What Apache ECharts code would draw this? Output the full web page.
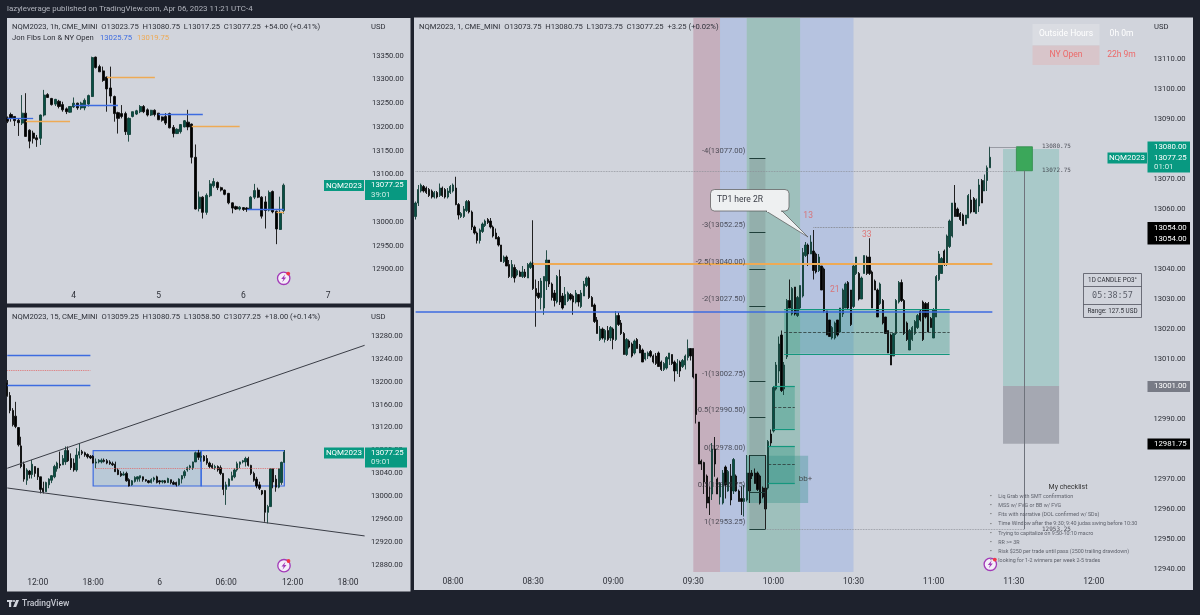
<!DOCTYPE html>
<html>

<head>
    <meta charset="utf-8">
    <title>NQM2023 multi timeframe</title>
    <script src="https://cdnjs.cloudflare.com/ajax/libs/echarts/6.0.0/echarts.min.js"></script>
    <style>
        html, body { margin: 0; padding: 0; background: #1e222d; }
    </style>
</head>

<body>
    <div id="main" style="width: 1200px;height:615px;"></div>
    <script type="text/javascript">
        // every bar is [open, close, low, high]
        var hourBars = [
            [13219,13212,13208,13222],[13226,13219,13211,13230],[13222,13213,13202,13222],[13214,13209,13181,13218],
            [13208,13229,13204,13267],[13229,13180,13179,13271],[13193,13170,13155,13195],[13187,13176,13165,13192],
            [13177,13173,13158,13183],[13176,13225,13162,13226],[13225,13267,13222,13278],[13268,13262,13261,13271],
            [13260,13247,13245,13261],[13248,13258,13244,13259],[13254,13243,13239,13257],[13247,13236,13232,13253],
            [13238,13232,13227,13241],[13231,13243,13230,13243],[13242,13250,13240,13262],[13250,13240,13236,13251],
            [13240,13250,13236,13253],[13240,13256,13235,13260],[13248,13266,13243,13268],[13264,13346,13263,13348],
            [13347,13325,13323,13348],[13327,13316,13316,13331],[13318,13298,13295,13327],[13305,13280,13232,13306],
            [13282,13265,13250,13327],[13264,13228,13211,13266],[13230,13218,13186,13232],[13228,13222,13218,13246],
            [13228,13190,13183,13232],[13184,13218,13169,13220],[13222,13232,13220,13232],[13227,13234,13225,13236],
            [13232,13243,13229,13246],[13243,13232,13229,13246],[13236,13225,13222,13239],[13225,13235,13223,13236],
            [13235,13226,13222,13237],[13229,13215,13214.5,13229],[13221,13214,13211,13222],[13222,13208,13204,13229],
            [13228,13198,13197,13230],[13199,13186,13178,13204],[13186,13195,13185,13197],[13190,13205,13186,13206],
            [13200,13213,13199,13214.5],[13210,13200,13193,13236],[13206,13136,13123,13207],[13136,13027,13026,13163],
            [13028,13052,13022,13064],[13052,13020,13007,13054],[13020,13056,13015,13060],[13055,13080,13052,13088],
            [13076,13085,13072,13092],[13083,13072,13067,13085],[13072,13067,13064,13074],[13067,13058,13056,13068],
            [13060,13040,13037,13061],[13040,13029,13018,13041],[13032,13027,13025,13034],[13027,13031,13024,13033],
            [13030,13026,13023,13031],[13029,13026,13021,13031],[13027,13052,13026,13054],[13052,13066,13048,13080],
            [13067,13052,13050,13072],[13052,13012,13007,13054],[13042,13024,12986,13054],[13025,13062,13022,13066],
            [13064,13021,13018,13066],[13022,12985,12953,13024],[12984,13020,12983,13053],[13023.75,13077.25,13017.25,13080.75]
        ];
        var quarterBars = [
            [13198,13176,13174,13203],[13176,13150,13145,13182],[13150,13125,13122,13154],[13140,13122,13119,13165],
            [13120,13090,13087,13121],[13088,13052,13049,13104],[13056,13030,13025.5,13060.5],[13028,13046,13020,13049],
            [13044,13038,13031,13046],[13038,13056,13031,13063.5],[13052,13040,13034,13052],[13049,13034,13028.5,13049],
            [13034,13012,13005,13034],[13014,13008,13005,13025.5],[13008,13024,13008,13025.5],[13020,13030,13014,13031.5],
            [13028,13036,13023,13037],[13034,13052,13031.5,13055],[13048,13058,13043,13060.5],[13056,13054,13049,13078],
            [13055,13066,13055,13072],[13060,13080,13055,13087],[13080,13062,13060,13087],[13066,13050,13046,13075],
            [13058,13046,13043,13066],[13046,13072,13043,13084],[13072,13078,13066,13092.5],[13078,13075,13072,13081],
            [13076,13072,13069,13078],[13073,13069,13066,13075],[13070,13067,13065,13072],[13070,13058,13057.5,13072],
            [13058,13060,13049,13066],[13060,13063,13057.5,13065],[13060,13063,13057.5,13066],[13063,13061,13059,13066],
            [13062,13058,13056,13065],[13060,13057,13055,13063],[13057,13055,13053,13060.5],[13056,13043,13043,13060.5],
            [13046,13038,13037,13049],[13040,13036,13034,13044],[13037,13039,13036,13043],[13040,13027,13025.5,13043],
            [13029,13018,13017,13031.5],[13020,13027,13018.5,13028.5],[13026,13033,13024,13035],[13030,13034,13025.5,13034.5],
            [13032,13036,13025.5,13036],[13034,13029,13025.5,13034.5],[13029,13027,13025.5,13030],[13027,13024,13022.5,13028.5],
            [13024,13029,13022.5,13031.5],[13029,13032,13025.5,13034],[13034,13024,13022.5,13036],[13027,13025,13021,13028.5],
            [13025,13027,13022.5,13028.5],[13027,13024,13022.5,13028.5],[13024,13031,13023.5,13032.5],[13029,13024,13021,13029],
            [13024,13021,13020,13027],[13024,13020,13017,13025.5],[13020,13030,13018.5,13031.5],[13030,13036,13022.5,13037],
            [13036,13043,13031.5,13046],[13046,13050,13043,13052],[13050,13053,13046,13055],[13050,13060,13046,13060.5],
            [13060,13076,13060,13078],[13076,13068,13063.5,13081],[13068,13070,13060.5,13078],[13070,13062,13060.5,13072],
            [13066,13058,13055,13072],[13058,13052,13049,13060.5],[13054,13050,13048,13057.5],[13050,13052,13046,13055],
            [13052,13046,13043,13054],[13050,13040,13037,13054],[13040,13012,13002,13040],[13012,13020,12985,13025.5],
            [13018,13030,13017,13031.5],[13028,13036,13028,13043],[13034,13046,13031.5,13049],[13046,13057,13043,13060.5],
            [13056,13060,13049,13060.5],[13060,13062,13057.5,13063.5],[13060,13066,13052,13069],[13066,13054,13052,13069],
            [13054,13040,13037,13055],[13040,13028,13025.5,13043],[13030,13018,13014,13034],[13020,13014,13011,13025.5],
            [13010,13004,13002,13011],[13010,12972,12955.5,13011],[12972,12982,12952.75,12985],[12982,13048,12982,13049],
            [13048,13025,13014,13049],[13030,13016,13008,13037],[13016,13048,13014,13049],[13024,13059.25,13020,13060.5],
            [13059.25,13077.25,13058.5,13080.75]
        ];
        var minuteBars = [
            [13057.5,13062,13056.5,13062.5],[13062,13066.5,13061,13068],[13066,13068,13065.5,13068.5],[13067.5,13066,13065.5,13068],
            [13067,13065.5,13065,13067.5],[13066.5,13064.5,13064,13067],[13066,13064,13063.5,13066.5],[13064,13065.5,13063.5,13066],
            [13065.5,13064,13063.5,13066],[13064.5,13067,13064,13068.5],[13067,13064.5,13064,13067.5],[13066.5,13064,13063.5,13067],
            [13064,13066,13063.5,13067],[13065.5,13067.5,13065,13068],[13066,13068,13065.5,13068.5],[13067,13061.5,13061.25,13070.75],
            [13061.5,13058,13056.5,13062],[13057.5,13058.5,13057,13059],[13057.5,13060,13057,13061],[13059.5,13062.5,13059,13063],
            [13062.5,13059,13058.5,13063],[13059,13054,13053,13059.5],[13054,13052,13051.5,13054.5],[13052,13049.5,13048.5,13052.5],
            [13049.5,13053,13048.5,13053.5],[13052.5,13055,13052,13055.5],[13054.5,13056,13054,13056.5],[13056.5,13055.5,13055,13057],
            [13056,13054,13053.5,13057],[13054,13051,13050.5,13054.5],[13052,13050,13050,13053.5],[13050.5,13048,13047.5,13051],
            [13048,13042.5,13042.5,13048],[13042.5,13044,13042,13044.5],[13044,13041,13041,13044.5],[13041.5,13037.5,13037,13043],
            [13037.5,13041.5,13037,13043],[13040.5,13037,13035.5,13041.5],[13038,13039.5,13037.5,13040],[13039,13037.5,13037.5,13039.5],
            [13037.5,13039,13037,13041],[13039,13037.5,13037,13040],[13037,13041.5,13037,13042],[13040.5,13042,13040,13042.5],
            [13042,13033.5,13033,13056.25],[13033.5,13031,13020.75,13036.5],[13032,13030.5,13030,13036],[13030.5,13036,13026.5,13037],
            [13027,13037.5,13024.75,13037.5],[13036,13043,13033,13046.25],[13043,13035,13034,13043],[13035,13030.5,13029.5,13035.5],
            [13032,13029.5,13027.5,13033],[13029,13037.5,13028.5,13038],[13037.5,13029,13028,13039.75],[13031,13027,13026.5,13032],
            [13028,13031.5,13028,13034],[13029.5,13032,13029,13032.5],[13031.5,13030,13029.5,13032],[13031,13029,13024.75,13031.5],
            [13029,13032,13028.5,13033],[13031.5,13029,13027.5,13031.5],[13027.5,13032,13027,13033],[13031,13035,13031,13036],
            [13034.5,13037,13034,13037.5],[13037,13030.5,13030,13037.5],[13030.5,13027.5,13027.5,13031],[13028,13022.5,13022,13028.5],
            [13023,13018.5,13018.5,13024],[13016.5,13020,13016,13021],[13020,13017,13016.5,13020.5],[13016.5,13019.5,13015.5,13020],
            [13019.5,13016.5,13016,13021],[13017,13020.5,13016,13021],[13020,13016.5,13013.25,13020.5],[13016.5,13024.5,13016,13026],
            [13024.5,13021.5,13021,13025.5],[13022,13018.5,13018,13023],[13018.5,13011.5,13011.5,13019],[13011.5,13016.5,13011,13017],
            [13016,13014,13013.5,13016.5],[13015,13011,13010.5,13015.5],[13012,13016,13011.5,13016.5],[13016.5,13013.5,13013.5,13017],
            [13014.5,13012,13012,13015],[13013,13009,13009,13013.5],[13010,13012,13009.5,13012],[13011,13012,13010,13012.5],
            [13012.5,13011,13010.5,13013],[13011,13009,13008.5,13011.5],[13011,13008.5,13008,13012],[13012,13007.5,13007.5,13012.5],
            [13009,13006.5,13006,13009.5],[13006.5,13008.5,13006,13009],[13007,13010.5,13006.5,13011],[13010,13012,13008,13012],
            [13011.5,13008.5,13008,13011.5],[13009,13006,13002.5,13009.5],[13006,13008.5,13005,13010],[13009,13006,13004,13009.5],
            [13007.5,13009.5,13007,13010],[13008,13011,13006.5,13011.5],[13010.5,13013.5,13009.5,13016.5],[13013.5,13011,13009.5,13013.5],
            [13013.5,13004,13003.5,13013.5],[13005,12991.5,12988.5,13005],[12989,12975,12975,12989],[12976,12975,12973,12976.5],
            [12975.5,12969,12965,12975.75],[12971,12962,12960.25,12971.5],[12964,12962,12958,12967.5],[12965,12980,12963,12982],
            [12980,12975,12970.75,12984],[12970,12965,12965,12970.5],[12964,12968.5,12961.5,12969],[12962,12972,12961.5,12973],
            [12974,12968,12963.5,12974.5],[12966,12972.5,12965.75,12973],[12971,12963,12961.25,12975],[12966,12976.5,12965,12977],
            [12971,12966,12965.75,12971.5],[12966,12962.5,12962.5,12966.5],[12963.5,12962.5,12958,12967.5],[12962.5,12963.5,12957.5,12968],
            [12963,12972,12962.5,12978],[12972,12966,12965.5,12974],[12972,12971,12970,12973],[12972,12968.5,12968.5,12973.5],
            [12972,12966.5,12966,12972.5],[12971,12962,12961.5,12971.5],[12967,12964,12963.5,12967.5],[12967,12960,12959.5,12967.5],
            [12967,12982.5,12966.5,12983],[12985,12982,12981,12986.5],[12986,13000.5,12985.5,13001],[13000,13008,12999.5,13009],
            [13006,13015,13002,13017.5],[13018,12999.5,12999,13019.5],[13000,13008,12998,13009],[13010.75,13029.5,13010,13030],
            [13029.5,13027,13027,13036.5],[13025,13033.5,13024.5,13034],[13034,13025,13024.5,13034],[13024.5,13030.5,13024,13031],
            [13027,13034.5,13026.5,13034.5],[13031,13045.5,13030.5,13047],[13044.5,13048,13044,13049],[13048,13045,13041,13048.5],
            [13045,13049,13045,13051.25],[13046,13039.5,13036.5,13053],[13045,13039,13038.5,13045.5],[13039.5,13044,13039,13045],
            [13041,13033,13033,13041],[13040,13026,13025.5,13040.5],[13026,13018,13018,13026],[13023,13017.5,13017.5,13023],
            [13017,13020.5,13016.5,13021],[13017,13022,13016.5,13022.5],[13023,13018,13017.5,13023],[13019,13027,13019,13027],
            [13025,13033,13024,13033.5],[13027,13035,13027,13035.5],[13035.5,13027,13026.5,13036],[13033,13021.5,13021,13033],
            [13027.5,13041,13027,13041.5],[13038.5,13044,13038,13044],[13038.5,13030,13029.5,13039],[13030,13037,13030,13037.5],
            [13038.5,13044.5,13038.5,13044.5],[13044,13038.5,13038,13044.5],[13044,13038.5,13038,13050.25],[13039,13027,13027,13039.5],
            [13036,13033,13033,13036.5],[13033,13024,13024,13033.5],[13028.5,13035,13028,13035.5],[13029.5,13022,13021.5,13030],
            [13024,13018.5,13018.5,13024],[13019.5,13012,13012,13019.5],[13018,13008,13008,13018.5],[13011,13018.5,13011,13018.5],
            [13018.5,13029.5,13018,13030],[13029,13035.5,13028.5,13036],[13035.5,13029.5,13029,13036.5],[13029.5,13018.5,13018,13030],
            [13022,13016.5,13016,13022.5],[13013,13019.5,13013,13020],[13016.5,13020.5,13016,13021],[13018.5,13022.5,13018,13023],
            [13020.5,13024.5,13020,13025],[13026,13023,13022.5,13026.5],[13029,13016.5,13016,13029.5],[13028.5,13024,13023.5,13029],
            [13028.5,13019,13019,13029],[13023.5,13020.5,13020.5,13024],[13017,13026.5,13017,13027],[13024,13037.5,13024,13038],
            [13036.5,13045,13036,13046],[13038.5,13043.5,13038.5,13044],[13046,13041.5,13041,13046.5],[13041.5,13051,13041,13051.5],
            [13047.5,13056,13047,13056.5],[13051,13062,13050.5,13062],[13062,13057.5,13057.5,13068],[13060,13057.5,13057.5,13060.5],
            [13058.5,13056.5,13056,13059],[13058,13054.5,13054.5,13058.5],[13055,13058,13055,13058],[13057,13064.5,13057,13065],
            [13063,13059,13058.5,13066.5],[13063.5,13059,13059,13064],[13058.5,13063,13058.5,13063.5],[13061,13068,13059,13070],
            [13069.5,13062,13062,13070],[13066,13069.5,13066,13071.5],[13069.5,13073.75,13066,13074.5],[13073.75,13077.25,13073.75,13080.75]
        ];

        // price ticks
        var hourPrices = [12900, 12950, 13000, 13050, 13100, 13150, 13200, 13250, 13300, 13350];
        var quarterPrices = [12880, 12920, 12960, 13000, 13040, 13080, 13120, 13160, 13200, 13240, 13280];
        var minutePrices = [12940, 12950, 12960, 12970, 12990, 13000, 13010, 13020, 13030, 13040, 13060, 13070, 13090, 13100, 13110];

        // time ticks: [bar slot, text]
        var hourTimes = [[18, '4'], [41, '5'], [64, '6'], [87, '7']];
        var quarterTimes = [[11, '12:00'], [31, '18:00'], [55, '6'], [79, '06:00'], [103, '12:00'], [123, '18:00']];
        var minuteTimes = [[14, '08:00'], [44, '08:30'], [74, '09:00'], [104, '09:30'], [134, '10:00'], [164, '10:30'], [194, '11:00'], [224, '11:30'], [254, '12:00']];

        // level segments: [from slot, to slot, price]
        var hourBlue = [[0, 7, 13217.5], [18, 30, 13244.75], [41, 53, 13226.5], [65, 75, 13025.75]];
        var hourOrange = [[5, 17, 13212.5], [27, 40, 13304.5], [50, 63, 13201.25], [73, 75, 13019.75]];
        var quarterBlue = [[0, 30, 13246.75], [0, 30, 13193.75]];
        var quarterRed = [[0, 30, 13220], [32, 98, 13049]];
        var quarterBox = [[31, 70, 13018, 13079.75], [70, 100, 13018, 13079.75]];
        var quarterTrends = [[0, 13049, 129, 13263.75], [0, 13014.5, 129, 12930.75]];

        var sessionBands = [[104, 114, 'rgba(170,90,120,0.3)'], [114, 124, 'rgba(110,150,235,0.27)'], [124, 144, 'rgba(50,150,120,0.32)'], [144, 164, 'rgba(110,150,235,0.27)']];
        var fibPrices = [13077, 13052.25, 13040, 13027.5, 13002.75, 12990.5, 12978, 12965.75, 12953.25];
        var fibTexts = ['-4(13077.00)', '-3(13052.25)', '-2.5(13040.00)', '-2(13027.50)', '-1(13002.75)', '-0.5(12990.50)', '0(12978.00)', '0.5(12965.75)', '1(12953.25)'];
        // imbalance boxes: [from, to, low, high, mid]
        var gapBoxes = [[138, 200, 13011.75, 13026.5, 13019], [134, 142, 12986.75, 13001, 12994], [132, 142, 12968.5, 12981, 12975]];
        var redCounts = [[147, 13057.75, '13'], [157, 13033, '21'], [169, 13051.25, '33']];
        var checklist = ['Liq Grab with SMT confirmation', 'MSS w/ FVG or BB w/ FVG', 'Fits with narrative (DOL confirmed w/ SDs)', 'Time Window after the 9:30; 9:40 judas swing before 10:30', 'Trying to capitalize on 9:50-10:10 macro', 'RR >= 3R', 'Risk $250 per trade until pass (2500 trailing drawdown)', 'looking for 1-2 winners per week 2-5 trades'];

        var FONT = 'Roboto, "Liberation Sans", sans-serif';
        var INK = '#2e3038';
        var BLUE = '#3d6be0';
        var ORANGE = '#eeaa55';
        var TEAL = '#089981';

        function slots(count, ticks) {
            var out = new Array(count).fill('');
            ticks.forEach(function (t) { out[t[0]] = t[1]; });
            return out;
        }

        function xAxis(index, count, ticks, top) {
            return {
                type: 'category', gridIndex: index, data: slots(count, ticks),
                axisLine: { show: false }, axisTick: { show: false }, splitLine: { show: false },
                axisLabel: { interval: 0, hideOverlap: false, margin: top, color: INK, fontSize: 8.5, fontFamily: FONT }
            };
        }

        function yAxis(index, min, max, prices) {
            return {
                type: 'value', position: 'right', gridIndex: index, min: min, max: max, scale: true,
                axisLine: { show: false }, axisTick: { show: false }, splitLine: { show: false },
                axisLabel: {
                    customValues: prices, margin: 5, color: INK, fontSize: 7.6, fontFamily: FONT,
                    formatter: function (v) { return v.toFixed(2); }
                }
            };
        }

        function candles(index, bars, width) {
            return {
                type: 'candlestick', xAxisIndex: index, yAxisIndex: index, data: bars, barWidth: width, z: 3,
                itemStyle: { color: '#084f45', color0: '#000', borderColor: '#123f38', borderColor0: '#0c0c0c', borderWidth: 0.9 }
            };
        }

        function flat(rows, color, width, type) {
            return rows.map(function (r) {
                return [{ coord: [r[0], r[2]], lineStyle: { color: color, width: width, type: type || 'solid' } }, { coord: [r[1], r[2]] }];
            });
        }

        function slanted(rows, color, width, type) {
            return rows.map(function (r) {
                return [{ coord: [r[0], r[1]], lineStyle: { color: color, width: width, type: type || 'solid' } }, { coord: [r[2], r[3]] }];
            });
        }

        function boxes(rows, fill, border, width) {
            return rows.map(function (r) {
                return [{ coord: [r[0], r[2]], itemStyle: { color: fill, borderColor: border || 'transparent', borderWidth: width || 0 } }, { coord: [r[1], r[3]] }];
            });
        }

        function overlay(index, lines, areas) {
            return {
                type: 'line', xAxisIndex: index, yAxisIndex: index, data: [], silent: true,
                markLine: { silent: true, animation: false, symbol: ['none', 'none'], label: { show: false }, emphasis: { disabled: true }, data: lines || [] },
                markArea: { silent: true, animation: false, label: { show: false }, emphasis: { disabled: true }, data: areas || [] }
            };
        }

        function notes(index, rows) {
            return {
                type: 'scatter', xAxisIndex: index, yAxisIndex: index, symbolSize: 0, silent: true, z: 6,
                data: rows.map(function (r) {
                    return {
                        value: [r.x, r.p],
                        label: {
                            show: true, formatter: r.text, position: r.pos || 'inside', distance: r.dist || 0, offset: r.off || [0, 0],
                            color: r.color || INK, fontSize: r.size || 8, fontFamily: r.font || FONT
                        }
                    };
                })
            };
        }

        // page furniture, in pixels
        function txt(x, y, text, color, size, align, font, weight) {
            return {
                type: 'text', x: x, y: y, z: 60, silent: true,
                style: { text: text, fill: color || INK, font: (weight || 'normal') + ' ' + (size || 7.65) + 'px ' + (font || FONT), align: align || 'left', verticalAlign: 'middle' }
            };
        }

        function box(x, y, w, h, fill, stroke, z) {
            return { type: 'rect', z: z === undefined ? 55 : z, silent: true, shape: { x: x, y: y, width: w, height: h }, style: { fill: fill, stroke: stroke || null, lineWidth: stroke ? 0.8 : 0 } };
        }

        function logo(x, y) {
            return [
                { type: 'circle', z: 58, silent: true, shape: { cx: x, cy: y, r: 6.2 }, style: { fill: '#f4eef8', stroke: '#a23ab8', lineWidth: 1.3 } },
                { type: 'polygon', z: 59, silent: true, shape: { points: [[x + 1.5, y - 4], [x - 2.5, y + 0.7], [x - 0.3, y + 0.7], [x - 1.5, y + 4], [x + 2.5, y - 0.8], [x + 0.3, y - 0.8]] }, style: { fill: '#a23ab8' } },
                { type: 'circle', z: 59, silent: true, shape: { cx: x + 4.5, cy: y - 4.7, r: 1.9 }, style: { fill: '#f23645' } }
            ];
        }

        function priceTag(x, y, name, price, timer) {
            return [
                box(x, y, 40, 11, TEAL), txt(x + 20, y + 5.5, name, '#fff', 8, 'center'),
                box(x + 41, y, 42, 20, TEAL), txt(x + 47, y + 5.5, price, '#fff', 7.8), txt(x + 47, y + 15, timer, '#cfeee7', 7.8)
            ];
        }

        var sm = 'NQM2023';
        var furniture = [
            box(7, 18, 403.5, 285.5, '#d1d4dc', null, -2),
            box(7, 307.5, 403.5, 284, '#d1d4dc', null, -2),
            box(414, 17.5, 779, 572.5, '#d1d4dc', null, -2),
            txt(7, 9.5, 'lazyleverage published on TradingView.com, Apr 06, 2023 11:21 UTC-4', '#b2b5be', 7.9),
            txt(12, 27.5, 'NQM2023, 1h, CME_MINI  O13023.75  H13080.75  L13017.25  C13077.25  +54.00 (+0.41%)'),
            txt(12, 38.5, 'Jon Fibs Lon & NY Open'), txt(100, 38.5, '13025.75', BLUE), txt(137, 38.5, '13019.75', ORANGE),
            txt(371, 27, 'USD'),
            txt(12, 317, 'NQM2023, 15, CME_MINI  O13059.25  H13080.75  L13058.50  C13077.25  +18.00 (+0.14%)'),
            txt(371, 317, 'USD'),
            txt(419, 27.5, 'NQM2023, 1, CME_MINI  O13073.75  H13080.75  L13073.75  C13077.25  +3.25 (+0.02%)'),
            txt(1154, 27, 'USD'),

            // session table
            box(1032.5, 24, 67, 21, '#dadce2'), txt(1066, 34, 'Outside Hours', '#fff', 8.5, 'center'), txt(1121.5, 34, '0h 0m', '#fff', 8.5, 'center'),
            box(1032.5, 45.5, 67, 19.5, '#d8c5ca'), txt(1066, 55, 'NY Open', '#ec6a6a', 8.5, 'center'), txt(1121.5, 55, '22h 9m', '#ec6a6a', 8.5, 'center'),

            // right scale tags
            box(1107.5, 152.5, 39.5, 11, TEAL), txt(1127, 158, sm, '#fff', 8, 'center'),
            box(1147.5, 141.5, 42.5, 31, TEAL), txt(1154, 147, '13080.00', '#fff', 7.8), txt(1154, 158, '13077.25', '#fff', 7.8), txt(1154, 167.5, '01:01', '#d6f0ea', 7.8),
            box(1147.5, 222, 42.5, 22.5, '#000'), txt(1154, 228, '13054.00', '#fff', 7.8), txt(1154, 239, '13054.00', '#fff', 7.8),
            box(1147.5, 381, 42.5, 11, '#787b86'), txt(1154, 386.5, '13001.00', '#fff', 7.8),
            box(1147.5, 438.5, 42.5, 11, '#000'), txt(1154, 444, '12981.75', '#fff', 7.8),

            // 1D candle box
            box(1083.5, 273.5, 58, 44, 'transparent', '#50535e'),
            { type: 'line', z: 56, silent: true, shape: { x1: 1083.5, y1: 286.5, x2: 1141.5, y2: 286.5 }, style: { stroke: '#50535e', lineWidth: 0.8 } },
            { type: 'line', z: 56, silent: true, shape: { x1: 1083.5, y1: 304.5, x2: 1141.5, y2: 304.5 }, style: { stroke: '#50535e', lineWidth: 0.8 } },
            txt(1112.5, 280, '1D CANDLE PO3°', INK, 6.3, 'center'),
            txt(1112.5, 295.5, '05:38:57', '#5d606b', 8.5, 'center', '"DejaVu Sans Mono", monospace'),
            txt(1112.5, 311, 'Range: 127.5 USD', INK, 6.3, 'center'),

            // callout
            { type: 'polygon', z: 57, silent: true, shape: { points: [[782, 211], [808, 237], [766, 211]] }, style: { fill: '#eef0f1', stroke: '#555', lineWidth: 0.7 } },
            { type: 'rect', z: 57, silent: true, shape: { x: 710.5, y: 189.5, width: 78.5, height: 21.5, r: 4 }, style: { fill: '#eef0f1', stroke: '#555', lineWidth: 0.7 } },
            { type: 'rect', z: 57, silent: true, shape: { x: 767, y: 209, width: 14, height: 3 }, style: { fill: '#eef0f1' } },
            txt(717, 200, 'TP1 here 2R', '#3a3d46', 8.5),

            txt(1068, 487.5, 'My checklist', '#333', 7, 'center'),

            // footer
            { type: 'rect', z: 60, silent: true, shape: { x: 7, y: 600, width: 5.5, height: 2 }, style: { fill: '#d1d4dc' } },
            { type: 'rect', z: 60, silent: true, shape: { x: 9, y: 600, width: 2.2, height: 7 }, style: { fill: '#d1d4dc' } },
            { type: 'circle', z: 60, silent: true, shape: { cx: 14, cy: 601, r: 1.1 }, style: { fill: '#d1d4dc' } },
            { type: 'polygon', z: 60, silent: true, shape: { points: [[16, 600], [19, 600], [16.2, 607], [13.2, 607]] }, style: { fill: '#d1d4dc' } },
            txt(22, 603.5, 'TradingView', '#c5c8d0', 8.5, 'left', FONT, '500')
        ];
        checklist.forEach(function (line, i) {
            var y = 496.7 + i * 9.15;
            furniture.push(txt(991, y, '•', '#555', 5.5, 'center'));
            furniture.push(txt(998.3, y, line, '#5f626c', 5.35));
        });
        furniture = furniture
            .concat(priceTag(324, 180, sm, '13077.25', '39:01'))
            .concat(priceTag(324, 447.5, sm, '13077.25', '09:01'))
            .concat(logo(283.7, 278.3), logo(284, 565.7), logo(990.3, 564.3));

        // main panel drawings
        var stopLine = '#8a8d96';
        var minuteLines = []
            .concat(flat([[0, 225, 13072.75]], stopLine, 0.8, 'dotted'))
            .concat(flat([[215, 225, 13080.75]], stopLine, 0.8))
            .concat(flat([[44, 216, 13041.75]], ORANGE, 2))
            .concat(flat([[0, 216, 13025.75]], BLUE, 1.5))
            .concat(flat([[149, 198, 13054]], '#777', 0.8, 'dotted'))
            .concat(flat([[131, 228, 12953.25]], stopLine, 0.8, 'dotted'))
            .concat(slanted([[228, 13072.75, 228, 12953.25]], '#6f737c', 1))
            .concat(flat(fibPrices.map(function (p) { return [125, 131, p]; }), '#1f3f3a', 1))
            .concat(slanted([[125, 12978, 125, 12962], [131, 12978, 131, 12953.25]], '#222', 1))
            .concat(flat(gapBoxes.map(function (b) { return [b[0], b[1], b[2]]; }), '#14977e', 1.2))
            .concat(flat(gapBoxes.map(function (b) { return [b[0], b[1], b[3]]; }), '#14977e', 1.2))
            .concat(flat(gapBoxes.map(function (b) { return [b[0], b[1], b[4]]; }), '#2c3a38', 0.8, 'dashed'));

        var minuteAreas = sessionBands.map(function (b) {
            return [{ xAxis: b[0], itemStyle: { color: b[2] } }, { xAxis: b[1] }];
        })
            .concat(boxes([[125, 131, 12953.25, 13077]], 'rgba(110,115,120,0.22)'))
            .concat(boxes(gapBoxes, 'rgba(30,150,125,0.32)'))
            .concat(boxes([[124, 147, 12962, 12977.75]], 'rgba(40,140,130,0.32)'))
            .concat(boxes([[220, 241, 13001, 13080]], '#a9c9c9'))
            .concat(boxes([[220, 241, 12981.75, 13001]], '#a5a8b2'))
            .concat(boxes([[225, 231, 13072.75, 13080.75]], '#3ba75a', '#2f8a4a', 0.8));

        var minuteNotes = fibTexts.map(function (t, i) {
            return { x: 125, p: fibPrices[i], text: t, pos: 'left', dist: 4, off: [0, -7], size: 7.6 };
        })
            .concat(redCounts.map(function (r) { return { x: r[0], p: r[1], text: r[2], color: '#e0605f', size: 8.5 }; }))
            .concat([
                { x: 146, p: 12970, text: 'bb+', color: '#333', size: 8 },
                { x: 240, p: 13080.75, text: '13080.75', size: 6, font: '"DejaVu Sans Mono", monospace' },
                { x: 240, p: 13072.75, text: '13072.75', size: 6, font: '"DejaVu Sans Mono", monospace' },
                { x: 240, p: 12953.25, text: '12953.25', size: 6, font: '"DejaVu Sans Mono", monospace' }
            ]);

        var chart = echarts.init(document.getElementById('main'));
        chart.setOption({
            animation: false,
            backgroundColor: '#1e222d',
            graphic: { elements: furniture },
            grid: [
                { left: 5.5, width: 361.4, top: 18, height: 267 },
                { left: 5.9, width: 360.1, top: 308, height: 264 },
                { left: 414.3, width: 734.25, top: 18, height: 554 }
            ],
            xAxis: [xAxis(0, 98, hourTimes, 6), xAxis(1, 130, quarterTimes, 6), xAxis(2, 275, minuteTimes, 5)],
            yAxis: [
                yAxis(0, 12867, 13429.4, hourPrices),
                yAxis(1, 12867.75, 13328.9, quarterPrices),
                yAxis(2, 12939, 13123.67, minutePrices)
            ],
            series: [
                overlay(0, flat(hourBlue, BLUE, 1.3).concat(flat(hourOrange, ORANGE, 1.3))),
                candles(0, hourBars, 2.6),
                overlay(1,
                    flat(quarterBlue, BLUE, 1.3)
                        .concat(flat(quarterRed, '#e06a6a', 0.9, 'dotted'))
                        .concat(slanted(quarterTrends, '#3a3d46', 1)),
                    boxes([quarterBox[0]], 'rgba(70,150,190,0.17)', BLUE, 1.2).concat(boxes([quarterBox[1]], 'transparent', BLUE, 1.2))),
                candles(1, quarterBars, 1.8),
                overlay(2, minuteLines, minuteAreas),
                candles(2, minuteBars, 1.8),
                notes(2, minuteNotes)
            ]
        });
    </script>
</body>

</html>
